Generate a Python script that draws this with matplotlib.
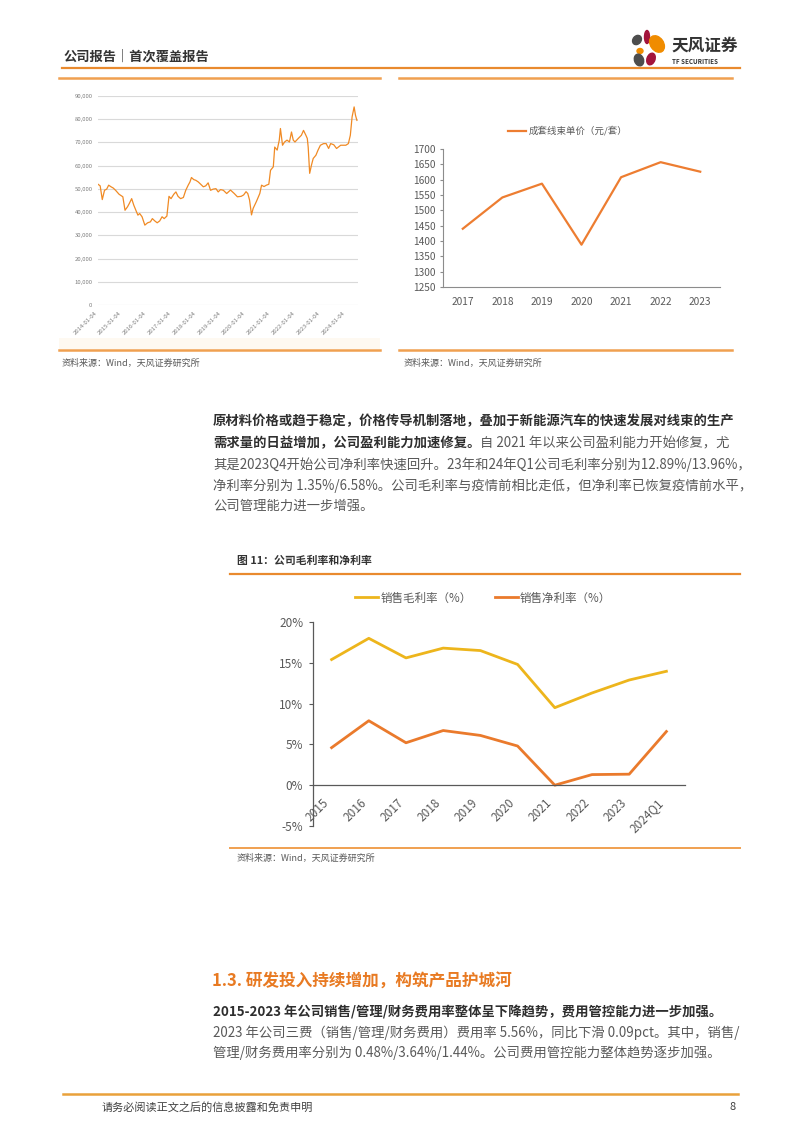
import matplotlib
matplotlib.use('Agg')
import matplotlib.pyplot as plt
from matplotlib.patches import Ellipse, Rectangle
import pandas as pd

plt.rcParams['font.family'] = ['Noto Sans CJK SC', 'DejaVu Sans']

W, H = 802, 1133

# ---- data read from the page ----
price_dates = ['2014-01-04', '2014-02-05', '2014-03-08', '2014-04-10', '2014-05-12', '2014-06-10',
               '2014-07-15', '2014-08-15', '2014-09-20', '2014-11-10', '2015-01-05', '2015-02-06',
               '2015-03-15', '2015-04-10', '2015-05-15', '2015-06-15', '2015-07-20', '2015-08-15',
               '2015-09-10', '2015-10-15', '2015-11-25', '2016-01-05', '2016-02-15', '2016-03-15',
               '2016-04-20', '2016-05-25', '2016-07-01', '2016-08-05', '2016-09-05', '2016-10-15',
               '2016-11-15', '2016-12-15', '2017-01-25', '2017-02-25', '2017-03-28', '2017-05-05',
               '2017-06-15', '2017-07-20', '2017-08-25', '2017-09-20', '2017-10-12', '2017-11-15',
               '2017-12-15', '2018-01-20', '2018-02-25', '2018-04-05', '2018-05-10', '2018-06-15',
               '2018-07-20', '2018-08-28', '2018-10-08', '2018-11-10', '2018-12-15', '2019-01-25',
               '2019-03-15', '2019-05-10', '2019-07-05', '2019-08-20', '2019-10-15', '2019-11-20',
               '2019-12-25', '2020-01-20', '2020-02-15', '2020-03-15', '2020-04-08', '2020-05-25',
               '2020-07-15', '2020-08-10', '2020-09-15', '2020-10-20', '2020-11-25', '2020-12-20',
               '2021-01-30', '2021-02-20', '2021-03-28', '2021-04-28', '2021-05-15', '2021-06-15',
               '2021-07-15', '2021-08-20', '2021-09-25', '2021-10-25', '2021-11-20', '2021-12-15',
               '2022-02-01', '2022-03-20', '2022-04-20', '2022-05-25', '2022-06-15', '2022-06-28',
               '2022-07-20', '2022-08-15', '2022-09-10', '2022-10-20', '2022-11-20', '2022-12-25',
               '2023-02-10', '2023-03-20', '2023-04-25', '2023-05-25', '2023-07-10', '2023-08-20',
               '2023-10-20', '2024-01-04', '2024-02-10', '2024-03-10', '2024-04-05', '2024-05-05',
               '2024-05-25', '2024-06-15']
price_vals = [52000, 51300, 45400, 49400, 49900, 51600, 50900, 50400, 49400, 47700, 46600, 40800,
              42300, 43700, 45800, 43000, 40500, 38700, 39400, 38000, 34400, 35400, 35800, 37200,
              36200, 35400, 36200, 38000, 37200, 38300, 46800, 45800, 47700, 48700, 46800, 45800,
              46300, 49400, 51600, 53000, 54900, 54000, 53700, 53000, 52000, 50900, 51300, 52600,
              49400, 49900, 50100, 48700, 49700, 49400, 48000, 49500, 48000, 46600, 46800, 47400,
              48800, 48000, 45200, 38800, 41600, 44500, 48000, 51600, 51000, 51600, 52000, 58000,
              59500, 68000, 66700, 71000, 76000, 68800, 70200, 71000, 70200, 74500, 71000, 70200,
              71700, 73100, 75200, 73100, 71700, 68000, 56700, 60200, 63100, 64500, 66700, 68800,
              69500, 69500, 67400, 69500, 69000, 67400, 68800, 68800, 69500, 73100, 81000, 85300,
              81700, 79500]
price_ticks = ['2014-01-04', '2015-01-04', '2016-01-04', '2017-01-04', '2018-01-04', '2019-01-04',
               '2020-01-04', '2021-01-04', '2022-01-04', '2023-01-04', '2024-01-04']

harness_years = ['2017', '2018', '2019', '2020', '2021', '2022', '2023']
harness_price = [1440, 1542, 1587, 1388, 1608, 1657, 1626]

margin_periods = ['2015', '2016', '2017', '2018', '2019', '2020', '2021', '2022', '2023', '2024Q1']
gross_margin = [15.4, 18.0, 15.6, 16.8, 16.5, 14.8, 9.5, 11.3, 12.89, 13.96]
net_margin = [4.6, 7.9, 5.2, 6.7, 6.1, 4.8, 0.0, 1.3, 1.35, 6.58]

ORANGE = '#E98A2E'
TXT_DARK = '#2E2E2E'
TXT_GRAY = '#595959'

fig = plt.figure(figsize=(W / 100, H / 100), dpi=100)
page = fig.add_axes([0, 0, 1, 1])
page.set_xlim(0, W)
page.set_ylim(H, 0)
page.axis('off')


def box(x0, y0, x1, y1):
    # pixel box (top-left origin) -> axes
    return fig.add_axes([x0 / W, 1 - y1 / H, (x1 - x0) / W, (y1 - y0) / H])


# ---- header ----
page.text(64, 57, '公司报告｜首次覆盖报告', fontsize=9.5, fontweight='bold', color='#333333', va='center')
page.plot([62, 740], [68, 68], color=ORANGE, lw=1.6)
# logo petals
for (cx, cy, w, h, ang, col) in [(647, 37, 5, 13, 0, '#A3143C'), (657, 44, 13, 18, -35, '#F08C00'),
                                 (637, 40, 8, 10, 40, '#4D4D4D'), (640, 51, 6, 5, 0, '#F08C00'),
                                 (639, 60, 9, 12, -20, '#4D4D4D'), (651, 59, 8, 12, 20, '#A3143C')]:
    page.add_patch(Ellipse((cx, cy), w, h, angle=ang, color=col))
page.text(671, 46, '天风证券', fontsize=12, fontweight='bold', color='#333333', va='center')
page.text(672, 61, 'TF SECURITIES', fontsize=4.5, fontweight='bold', color='#333333', va='center')

# figure frames of top charts
for x0, x1 in [(59, 380), (399, 732)]:
    page.plot([x0, x1], [78, 78], color='#F0A050', lw=1.8)
    page.plot([x0, x1], [350, 350], color='#F0A050', lw=1.8)
page.add_patch(Rectangle((59, 338), 321, 11, color='#FEF9F1', lw=0))
page.text(62, 363, '资料来源：Wind，天风证券研究所', fontsize=6.5, color=TXT_GRAY, va='center')
page.text(404, 363, '资料来源：Wind，天风证券研究所', fontsize=6.5, color=TXT_GRAY, va='center')

# ---- top-left price chart ----
ax1 = box(98, 96, 358, 305)
ax1.plot(pd.to_datetime(price_dates), price_vals, color='#F08A24', lw=0.9)
ax1.set_ylim(0, 90000)
yt = list(range(0, 90001, 10000))
ax1.set_yticks(yt)
ax1.set_yticklabels([f'{v:,}' for v in yt])
ax1.set_xlim(pd.Timestamp('2014-01-04'), pd.Timestamp('2024-07-01'))
ax1.set_xticks(pd.to_datetime(price_ticks))
ax1.set_xticklabels(price_ticks, rotation=45, ha='right')
ax1.grid(axis='y', color='#D9D9D9', lw=0.8)
ax1.set_axisbelow(True)
for s in ax1.spines.values():
    s.set_visible(False)
ax1.tick_params(length=0, labelsize=4.3, labelcolor='#7F7F7F', pad=4)

# ---- top-right harness price chart ----
ax2 = box(443, 149, 720, 287)
ax2.plot(range(len(harness_years)), harness_price, color='#ED7D31', lw=1.6, label='成套线束单价（元/套）')
ax2.set_xlim(-0.5, 6.5)
ax2.set_ylim(1250, 1700)
ax2.set_yticks(range(1250, 1701, 50))
ax2.set_xticks(range(len(harness_years)))
ax2.set_xticklabels(harness_years)
for s in ['top', 'right']:
    ax2.spines[s].set_visible(False)
for s in ['left', 'bottom']:
    ax2.spines[s].set_color('#8C8C8C')
    ax2.spines[s].set_linewidth(0.8)
ax2.tick_params(axis='y', length=2.5, color='#8C8C8C', labelsize=7.3, labelcolor=TXT_GRAY, pad=3)
ax2.tick_params(axis='x', length=0, labelsize=7.3, labelcolor=TXT_GRAY, pad=7)
ax2.legend(loc='center', bbox_to_anchor=(0.45, 1.13), frameon=False, fontsize=6.8,
           handlelength=1.9, handletextpad=0.2, labelcolor=TXT_GRAY)

# ---- paragraph 1 ----
fs = 9.6
r = fig.canvas.get_renderer()


def seg_line(x, y, parts):
    for txt, bold in parts:
        t = page.text(x, y, txt, fontsize=fs, fontweight='bold' if bold else 'normal',
                      color=TXT_DARK if bold else TXT_GRAY, va='center')
        x = t.get_window_extent(r).x1


seg_line(213, 421, [('原材料价格或趋于稳定，价格传导机制落地，叠加于新能源汽车的快速发展对线束的生产', True)])
seg_line(213, 443, [('需求量的日益增加，公司盈利能力加速修复。', True), ('自 2021 年以来公司盈利能力开始修复，尤', False)])
seg_line(213, 465, [('其是2023Q4开始公司净利率快速回升。23年和24年Q1公司毛利率分别为12.89%/13.96%，', False)])
seg_line(213, 486, [('净利率分别为 1.35%/6.58%。公司毛利率与疫情前相比走低，但净利率已恢复疫情前水平，', False)])
seg_line(213, 506, [('公司管理能力进一步增强。', False)])

# ---- figure 11 ----
page.text(237, 561, '图 11：公司毛利率和净利率', fontsize=7.8, fontweight='bold', color='#333333', va='center')
page.plot([230, 740], [574, 574], color=ORANGE, lw=1.6)
page.plot([230, 740], [848, 848], color='#F0A050', lw=1.4)
page.text(237, 858, '资料来源：Wind，天风证券研究所', fontsize=6.5, color=TXT_GRAY, va='center')

ax3 = box(313, 622, 685, 826)
xs = list(range(len(margin_periods)))
ax3.plot(xs, gross_margin, color='#EDB51C', lw=2.0, label='销售毛利率（%）')
ax3.plot(xs, net_margin, color='#EA7A2C', lw=2.0, label='销售净利率（%）')
ax3.spines['bottom'].set_position(('data', 0))
ax3.set_xlim(-0.5, 9.5)
ax3.set_ylim(-5, 20)
ax3.set_yticks(range(-5, 21, 5))
ax3.set_yticklabels([f'{v}%' for v in range(-5, 21, 5)])
ax3.set_xticks(xs)
ax3.set_xticklabels(margin_periods, rotation=45, ha='right')
for s in ['top', 'right']:
    ax3.spines[s].set_visible(False)
for s in ['left', 'bottom']:
    ax3.spines[s].set_color('#595959')
    ax3.spines[s].set_linewidth(0.9)
ax3.tick_params(axis='y', length=3, color='#595959', labelsize=8.5, labelcolor=TXT_GRAY, pad=4)
ax3.tick_params(axis='x', length=0, labelsize=8.5, labelcolor=TXT_GRAY, pad=8)
ax3.legend(loc='center', bbox_to_anchor=(0.457, 1.118), ncol=2, frameon=False, fontsize=8.3,
           handlelength=2.0, handletextpad=0.2, columnspacing=2.0, labelcolor=TXT_GRAY)

# ---- section 1.3 ----
page.text(212, 982, '1.3. 研发投入持续增加，构筑产品护城河', fontsize=12, fontweight='bold', color='#E87A22', va='center')
seg_line(213, 1012, [('2015-2023 年公司销售/管理/财务费用率整体呈下降趋势，费用管控能力进一步加强。', True)])
seg_line(213, 1033, [('2023 年公司三费（销售/管理/财务费用）费用率 5.56%，同比下滑 0.09pct。其中，销售/', False)])
seg_line(213, 1053, [('管理/财务费用率分别为 0.48%/3.64%/1.44%。公司费用管控能力整体趋势逐步加强。', False)])

# ---- footer ----
page.plot([63, 738], [1094, 1094], color='#E9A13B', lw=1.8)
page.text(102, 1107, '请务必阅读正文之后的信息披露和免责申明', fontsize=8, color='#404040', va='center')
page.text(736, 1107, '8', fontsize=8, color='#404040', va='center', ha='right')

fig.savefig('out.png', dpi=100)
